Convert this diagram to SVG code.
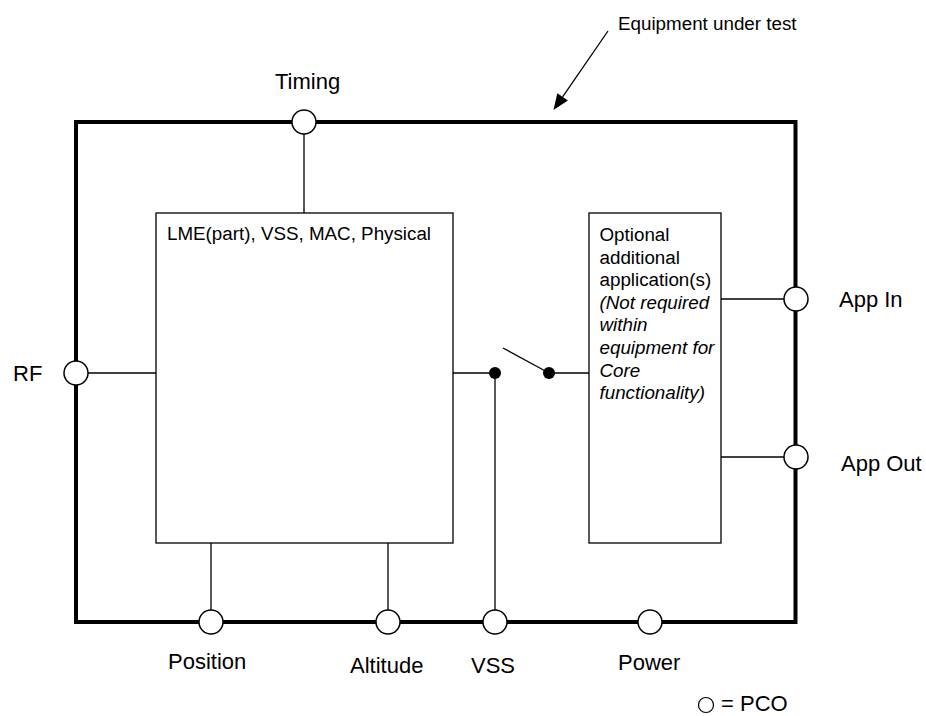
<svg xmlns="http://www.w3.org/2000/svg" width="926" height="716" viewBox="0 0 926 716">
<style>
text{font-family:"Liberation Sans",Arial,sans-serif;fill:#000}
.lbl{font-size:22px}
.box{font-size:18.8px}
.it{font-style:italic}
.thin{stroke:#000;stroke-width:1.3;fill:none}
.pco{stroke:#000;stroke-width:1.5;fill:#fff}
.dot{fill:#000}
</style>
<rect width="926" height="716" fill="#fff"/>

<g id="equipment">
<rect x="76" y="122" width="719.5" height="500" fill="none" stroke="#000" stroke-width="4"/>
</g>

<g id="connectors">
<line class="thin" x1="304" y1="134" x2="304" y2="213"/>
<line class="thin" x1="88" y1="373" x2="156" y2="373"/>
<line class="thin" x1="211" y1="543" x2="211" y2="610"/>
<line class="thin" x1="388" y1="543" x2="388" y2="610"/>
<line class="thin" x1="495" y1="373" x2="495" y2="610"/>
<line class="thin" x1="453" y1="373" x2="495" y2="373"/>
<line class="thin" x1="503" y1="348" x2="549" y2="373"/>
<line class="thin" x1="549" y1="373" x2="589" y2="373"/>
<line class="thin" x1="721" y1="299" x2="784" y2="299"/>
<line class="thin" x1="721" y1="457" x2="784" y2="457"/>
<line x1="608" y1="31" x2="562.6" y2="96.9" stroke="#000" stroke-width="1.3"/>
<path d="M553.5,110 L567.9,100.6 L557.3,93.2 Z" fill="#000"/>
</g>

<g id="switch">
<circle class="dot" cx="495" cy="373" r="6"/>
<circle class="dot" cx="549" cy="373" r="6"/>
</g>

<g id="core">
<rect x="156" y="213" width="297" height="330" fill="#fff" stroke="#000" stroke-width="1.3"/>
<text class="box" x="167" y="239.5">LME(part), VSS, MAC, Physical</text>
</g>

<g id="optional">
<rect x="589" y="213" width="132" height="330" fill="#fff" stroke="#000" stroke-width="1.3"/>
<text class="box" x="599.5" y="241">Optional</text>
<text class="box" x="599.5" y="263.6">additional</text>
<text class="box" x="599.5" y="286.2">application(s)</text>
<text class="box it" x="599.5" y="308.8">(Not required</text>
<text class="box it" x="599.5" y="331.4">within</text>
<text class="box it" x="599.5" y="354">equipment for</text>
<text class="box it" x="599.5" y="376.6">Core</text>
<text class="box it" x="599.5" y="399.2">functionality)</text>
</g>

<g id="timing"><circle class="pco" cx="304" cy="122" r="12"/><text class="lbl" x="275" y="89">Timing</text></g>
<g id="rf"><circle class="pco" cx="76" cy="373" r="12"/><text class="lbl" x="13" y="381">RF</text></g>
<g id="appin"><circle class="pco" cx="796" cy="299" r="12"/><text class="lbl" x="839" y="307">App In</text></g>
<g id="appout"><circle class="pco" cx="796" cy="457" r="12"/><text class="lbl" x="841" y="471">App Out</text></g>
<g id="position"><circle class="pco" cx="211" cy="622" r="12"/><text class="lbl" x="168" y="669">Position</text></g>
<g id="altitude"><circle class="pco" cx="388" cy="622" r="12"/><text class="lbl" x="350" y="673">Altitude</text></g>
<g id="vss"><circle class="pco" cx="495" cy="622" r="12"/><text class="lbl" x="471" y="673">VSS</text></g>
<g id="power"><circle class="pco" cx="650" cy="622" r="12"/><text class="lbl" x="618" y="670">Power</text></g>

<g id="title"><text class="box" x="618" y="30">Equipment under test</text></g>

<g id="legend">
<circle cx="706" cy="705" r="7.5" fill="#fff" stroke="#000" stroke-width="1.2"/>
<text class="lbl" x="721" y="711">= PCO</text>
</g>
</svg>
